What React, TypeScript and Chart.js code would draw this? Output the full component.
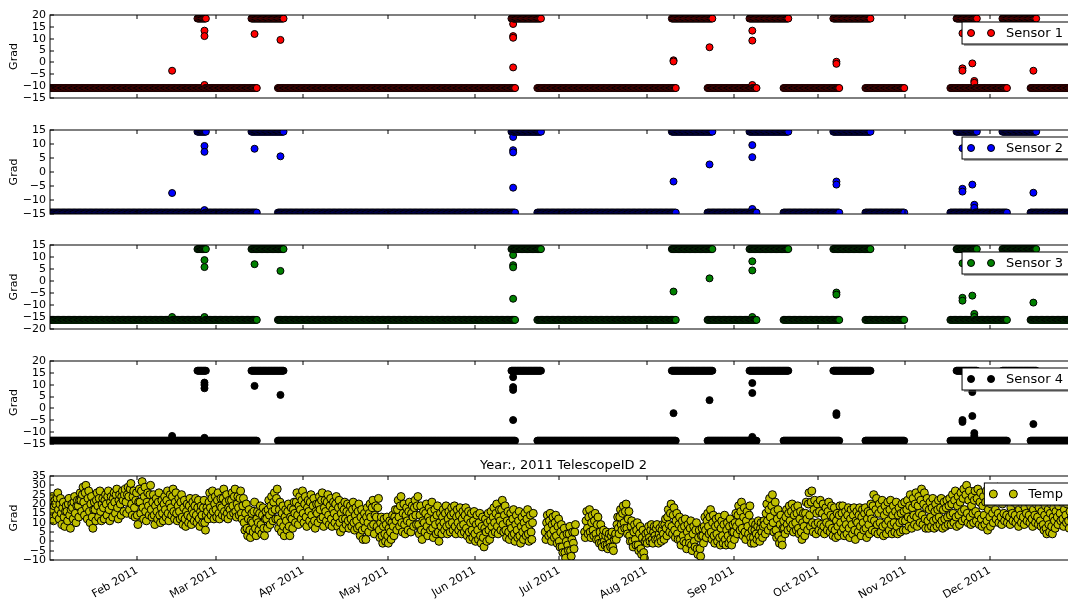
import React, { useEffect, useRef } from 'react';
import { Chart, registerables } from 'chart.js';

Chart.register(...registerables);

const FONT = "'DejaVu Sans', 'Liberation Sans', sans-serif";
Chart.defaults.font.family = FONT;
Chart.defaults.color = '#000';

// ---------- x axis (days since 1 Jan 2011) ----------
const X_MIN = 0;
const X_MAX = 365;
const MONTH_TICK_DAYS = [31, 59, 90, 120, 151, 181, 212, 243, 273, 304, 334];
const MONTH_TICK_LABELS = ['Feb 2011', 'Mar 2011', 'Apr 2011', 'May 2011', 'Jun 2011', 'Jul 2011', 'Aug 2011', 'Sep 2011', 'Oct 2011', 'Nov 2011', 'Dec 2011'];

// ---------- y ticks ----------
const Y_TICKS_S1 = [-15, -10, -5, 0, 5, 10, 15, 20];
const Y_TICKS_S2 = [-15, -10, -5, 0, 5, 10, 15];
const Y_TICKS_S3 = [-20, -15, -10, -5, 0, 5, 10, 15];
const Y_TICKS_S4 = [-15, -10, -5, 0, 5, 10, 15, 20];
const Y_TICKS_TEMP = [-10, -5, 0, 5, 10, 15, 20, 25, 30, 35];

// ---------- sensor readings: runs (day from, day to) at the resting level / the raised level ----------
const LOW_RUNS = [[0, 73.5], [81, 165.3], [173.2, 222.5], [233.7, 251.3], [260.7, 280.5], [289.8, 303.7], [320, 340.3], [348.5, 365]];
const HIGH_RUNS = [[52.4, 55.6], [71.6, 83], [164, 174.7], [221, 235.4], [248.6, 262.4], [278.4, 291.6], [322.2, 329.6], [338.5, 350.6]];
const READING_STEP_DAYS = 0.3;

const S1_LEVELS = [-10.8, 18.5];
const S2_LEVELS = [-14.5, 14.4];
const S3_LEVELS = [-16.2, 13.3];
const S4_LEVELS = [-13.6, 15.9];

// [day, value]
const S1_OUTLIERS = [[43.4, -3.5], [54.9, 13.4], [54.9, 11.1], [54.9, -9.5], [72.7, 12], [81.9, 9.5], [164.6, 16.2], [164.6, 11.1], [164.6, 10.4], [164.6, -2.1], [221.6, 0.9], [221.6, 0.4], [234.4, 6.4], [249.6, 13.4], [249.6, 9.2], [249.6, -9.5], [279.5, 0.3], [279.5, -0.6], [324.3, 12.3], [324.3, -2.5], [324.3, -3.5], [327.8, -0.4], [328.5, -7.8], [328.5, -8.6], [349.5, -3.5]];
const S2_OUTLIERS = [[43.4, -7.5], [54.9, 9.3], [54.9, 7.2], [54.9, -13.6], [72.7, 8.3], [81.9, 5.6], [164.6, 12.5], [164.6, 7.8], [164.6, 7], [164.6, -5.6], [221.6, -3.4], [234.4, 2.7], [249.6, 9.6], [249.6, 5.3], [249.6, -13.2], [279.5, -3.4], [279.5, -4.5], [324.3, 8.5], [324.3, -6], [324.3, -7], [327.8, -4.5], [328.5, -11.7], [328.5, -12.8], [349.5, -7.4]];
const S3_OUTLIERS = [[43.4, -15], [54.9, 8.7], [54.9, 5.8], [54.9, -15], [72.7, 7], [81.9, 4.2], [164.6, 10.8], [164.6, 6.6], [164.6, 5.7], [164.6, -7.4], [221.6, -4.4], [234.4, 1.1], [249.6, 8.2], [249.6, 4.4], [249.6, -15], [279.5, -4.8], [279.5, -5.7], [324.3, 7.4], [324.3, -7], [324.3, -8.2], [327.8, -6.1], [328.5, -13.7], [328.5, -15], [349.5, -9]];
const S4_OUTLIERS = [[43.4, -11.6], [54.9, 10.9], [54.9, 9.9], [54.9, 8.5], [54.9, -12.4], [72.7, 9.5], [81.9, 5.7], [164.6, 15.4], [164.6, 13.2], [164.6, 9], [164.6, 7.8], [164.6, -4.9], [221.6, -2], [234.4, 3.5], [249.6, 10.7], [249.6, 6.5], [249.6, -12], [279.5, -2], [279.5, -2.8], [324.3, -4.9], [324.3, -5.7], [327.8, 6.9], [327.8, -3.2], [328.5, -10.4], [328.5, -11.6], [349.5, -6.6]];

// ---------- temperature: four readings per day (00h, 06h, 12h, 18h); null = no data ----------
const TEMP_READS_PER_DAY = 4;
const TEMP_JAN_START = 0;
const TEMP_JAN = [18, 13, 21, 24, 16, 11, 19, 22, 20, 14, 23, 26, 17, 12, 20, 23, 15, 9, 18, 21, 13, 8, 16, 19, 16, 11, 20, 23, 14, 7, 17, 20,
  18, 12, 21, 24, 15, 10, 19, 22, 19, 13, 22, 26, 22, 16, 25, 29, 21, 14, 26, 30, 18, 12, 23, 27, 16, 10, 20, 24, 13, 7, 17, 21,
  17, 11, 22, 26, 19, 13, 23, 27, 16, 11, 20, 23, 18, 12, 22, 25, 20, 14, 24, 27, 17, 11, 21, 24, 19, 13, 23, 26, 21, 15, 25, 28,
  18, 12, 22, 25, 20, 14, 24, 27, 22, 16, 25, 28, 21, 15, 25, 29, 24, 17, 28, 31, 20, 14, 24, 27, 18, 13, 22, 26];
const TEMP_FEB_START = 31;
const TEMP_FEB = [14, 9, 21, 28, 21, 15, 27, 32, 18, 12, 24, 29, 16, 11, 21, 26, 19, 14, 25, 30, 17, 13, 21, 25, 14, 9, 19, 23,
  16, 12, 21, 26, 14, 10, 18, 22, 15, 11, 20, 24, 17, 13, 22, 27, 15, 11, 20, 25, 18, 14, 24, 28, 16, 12, 21, 26,
  15, 11, 19, 23, 16, 12, 21, 25, 13, 9, 18, 22, 12, 8, 16, 20, 14, 10, 19, 23, 13, 9, 17, 21, 15, 11, 19, 23,
  14, 10, 18, 22, 12, 8, 16, 19, 14, 10, 18, 22, 10, 6, 14, 18, 16, 12, 21, 26, 18, 14, 23, 27, 16, 12, 20, 24];
const TEMP_MAR_START = 59;
const TEMP_MAR = [17, 13, 22, 26, 15, 12, 19, 23, 18, 14, 23, 28, 16, 13, 21, 25, 15, 12, 18, 22, 17, 14, 22, 26, 19, 15, 24, 28,
  16, 13, 20, 24, 18, 14, 23, 27, 15, 12, 19, 23, 10, 6, 15, 20, 7, 3, 12, 17, 6, 2, 11, 15, 10, 5, 16, 21,
  7, 3, 12, 16, 10, 6, 15, 19, 9, 4, 14, 18, 7, 3, 12, 16, 12, 7, 17, 22, 14, 9, 19, 24, 16, 11, 21, 26,
  17, 12, 23, 28, 12, 7, 17, 21, 10, 5, 15, 19, 8, 3, 13, 17, 11, 6, 16, 20, 8, 3, 13, 18, 12, 7, 17, 21,
  15, 10, 21, 26, 14, 9, 19, 24, 17, 12, 22, 27];
const TEMP_APR_START = 90;
const TEMP_APR = [15, 10, 20, 24, 13, 8, 18, 22, 16, 11, 21, 25, 14, 9, 19, 23, 11, 7, 16, 20, 15, 10, 20, 24, 17, 12, 22, 26,
  13, 8, 18, 22, 16, 11, 21, 25, 14, 9, 19, 23, 12, 8, 17, 21, 15, 10, 20, 24, 13, 8, 18, 22, 10, 5, 15, 19,
  12, 7, 17, 21, 12, 9, 16, 20, 11, 7, 15, 19, 12, 8, 17, 21, 10, 6, 14, 18, 11, 7, 16, 20, 8, 3, 13, 17,
  6, 1, 11, 15, 7, 1, 13, 18, 10, 5, 15, 20, 13, 8, 18, 22, 9, 4, 14, 19, 13, 8, 18, 23, 6, 2, 10, 13,
  3, -1, 8, 12, 4, 0, 9, 13];
const TEMP_MAY_START = 120;
const TEMP_MAY = [3, -1, 7, 11, 5, 1, 10, 14, 8, 3, 13, 17, 11, 6, 17, 22, 13, 8, 19, 24, 10, 5, 15, 20, 9, 4, 14, 18,
  11, 6, 16, 21, 10, 5, 15, 19, 13, 8, 18, 22, 14, 9, 19, 24, 9, 4, 14, 19, 6, 1, 11, 16, 10, 5, 15, 20,
  8, 3, 13, 18, 11, 6, 16, 21, 7, 2, 12, 17, 9, 4, 14, 19, 5, 0, 10, 15, 8, 4, 13, 17, 10, 6, 15, 19,
  8, 4, 12, 16, 9, 5, 14, 18, 10, 6, 15, 19, 8, 4, 13, 17, 10, 6, 14, 18, 8, 4, 12, 16, 9, 5, 14, 18,
  7, 3, 12, 16, 5, 1, 10, 15, 6, 2, 11, 16];
const TEMP_JUN_START = 151;
const TEMP_JUN = [4, 0, 9, 14, 6, 1, 10, 15, 3, -1, 8, 13, 2, -3, 7, 12, 5, 0, 10, 15, 6, 1, 11, 16, 8, 4, 13, 18,
  10, 5, 15, 20, 8, 4, 13, 17, 11, 6, 17, 22, 9, 5, 14, 19, 6, 2, 11, 16, 5, 1, 10, 15, 7, 3, 12, 17,
  4, 0, 9, 14, 6, 2, 11, 16, 3, -1, 8, 13, 5, 1, 10, 15, 7, 3, 12, 17, 4, 0, 9, 14, 5, 1, 10, 15,
  null, null, null, null, null, null, null, null, null, null, null, null, null, null, null, null,
  5, 1, 10, 14, 7, 3, 11, 15, 4, 0, 9, 13, 6, 2, 10, 14, 3, -1, 8, 12];
const TEMP_JUL_START = 181;
const TEMP_JUL = [0, -3, 5, 9, -3, -6, 3, 7, -6, -9, 0, 4, -2, -5, 4, 8, -5, -8, 1, 5, -1, -4, 5, 9,
  null, null, null, null, null, null, null, null, null, null, null, null,
  5, 2, 11, 16, 7, 4, 13, 17, 5, 2, 10, 14, 6, 3, 11, 15, 4, 1, 9, 13, 1, -1, 5, 9, -1, -3, 3, 6,
  0, -2, 3, 5, -2, -4, 2, 4, -1, -3, 3, 5, -3, -5, 1, 3, 4, 1, 9, 13, 7, 4, 13, 17, 9, 6, 15, 19,
  10, 7, 16, 20, 7, 4, 12, 16, 3, 0, 8, 11, 0, -3, 5, 9, 1, -2, 6, 10, -2, -5, 4, 8, -4, -7, 2, 6,
  -6, -9, 0, 4];
const TEMP_AUG_START = 212;
const TEMP_AUG = [1, -1, 5, 8, 2, 0, 6, 9, 1, -1, 5, 8, 3, 1, 7, 9, 1, -1, 4, 7, 2, 0, 6, 9, 4, 1, 9, 12,
  7, 3, 13, 17, 9, 5, 15, 20, 8, 4, 14, 18, 6, 2, 11, 15, 4, 1, 9, 13, 1, -2, 7, 11, 3, 0, 8, 12,
  -1, -4, 5, 9, 2, -1, 7, 11, -2, -5, 4, 8, 0, -3, 6, 10, -4, -7, 2, 6, -4, -8, 3, 7, 3, -1, 8, 13,
  6, 2, 11, 15, 8, 4, 13, 17, 5, 1, 10, 14, 3, -1, 8, 12, 4, 0, 9, 13, 2, -2, 7, 11, 3, -1, 9, 14,
  1, -2, 6, 10, 3, -1, 8, 12, 1, -2, 5, 9];
const TEMP_SEP_START = 243;
const TEMP_SEP = [5, 1, 10, 15, 8, 4, 14, 19, 10, 6, 16, 21, 7, 3, 13, 18, 5, 1, 11, 16, 8, 4, 14, 19, 2, -1, 6, 10,
  2, -1, 6, 9, 4, 1, 8, 11, 3, 0, 7, 10, 5, 2, 8, 11, 9, 4, 15, 20, 11, 6, 17, 23, 13, 8, 19, 25,
  10, 5, 16, 21, 6, 2, 12, 17, 3, -1, 9, 14, 1, -2, 7, 11, 7, 4, 13, 17, 9, 6, 15, 19, 11, 7, 16, 20,
  9, 5, 14, 18, 10, 6, 15, 19, 7, 4, 12, 16, 5, 1, 10, 15, 8, 3, 15, 21, 12, 6, 20, 26, 14, 8, 21, 27,
  10, 5, 17, 22, 9, 4, 15, 20];
const TEMP_OCT_START = 273;
const TEMP_OCT = [10, 6, 16, 22, 9, 5, 15, 20, 8, 4, 13, 18, 10, 6, 16, 21, 9, 5, 14, 19, 7, 3, 13, 18, 6, 2, 11, 15,
  8, 3, 14, 19, 10, 5, 15, 19, 7, 3, 12, 16, 9, 4, 14, 18, 7, 2, 12, 17, 9, 4, 14, 18, 6, 1, 11, 16,
  10, 5, 14, 18, 8, 3, 13, 17, 10, 6, 15, 18, 7, 2, 12, 16, 9, 4, 15, 20, 12, 6, 19, 25, 11, 5, 17, 23,
  9, 4, 15, 20, 10, 5, 17, 22, 8, 3, 14, 19, 9, 4, 16, 21, 11, 6, 17, 22, 9, 4, 14, 19, 10, 5, 16, 21,
  8, 4, 14, 18, 10, 5, 15, 20, 11, 6, 16, 21];
const TEMP_NOV_START = 304;
const TEMP_NOV = [11, 6, 17, 22, 13, 8, 19, 25, 12, 7, 18, 23, 14, 9, 20, 26, 13, 8, 19, 24, 15, 10, 22, 28, 14, 9, 20, 26,
  12, 7, 18, 23, 11, 7, 17, 21, 13, 8, 18, 23, 11, 7, 16, 20, 12, 8, 17, 22, 13, 9, 18, 23, 11, 7, 17, 21,
  12, 8, 18, 22, 13, 9, 19, 23, 14, 9, 20, 25, 15, 10, 22, 27, 13, 8, 19, 24, 14, 9, 21, 26, 16, 11, 23, 28,
  17, 12, 25, 30, 15, 10, 22, 27, 13, 9, 19, 24, 15, 10, 22, 27, 16, 11, 23, 28, 14, 9, 21, 26, 12, 8, 19, 24,
  14, 9, 21, 27, 11, 6, 17, 23];
const TEMP_DEC_START = 334;
const TEMP_DEC = [13, 8, 20, 26, 15, 10, 22, 28, 17, 12, 24, 29, 15, 10, 22, 27, 13, 9, 20, 25, 15, 11, 22, 27, 14, 10, 21, 26,
  13, 9, 18, 23, 15, 11, 21, 25, 14, 10, 20, 24, 12, 8, 17, 22, 14, 10, 20, 24, 13, 9, 18, 23, 15, 11, 21, 25,
  14, 10, 19, 23, 12, 8, 17, 22, 14, 10, 20, 24, 13, 9, 18, 22, 11, 8, 16, 21, 9, 6, 14, 19, 7, 4, 12, 17,
  9, 5, 15, 20, 8, 4, 13, 18, 11, 7, 16, 21, 13, 9, 19, 23, 15, 11, 21, 25, 12, 8, 17, 22, 14, 10, 20, 24,
  11, 7, 16, 21, 13, 9, 19, 23, 15, 11, 20, 24];

const TEMP_MONTHS: [number, (number | null)[]][] = [
  [TEMP_JAN_START, TEMP_JAN], [TEMP_FEB_START, TEMP_FEB], [TEMP_MAR_START, TEMP_MAR], [TEMP_APR_START, TEMP_APR],
  [TEMP_MAY_START, TEMP_MAY], [TEMP_JUN_START, TEMP_JUN], [TEMP_JUL_START, TEMP_JUL], [TEMP_AUG_START, TEMP_AUG],
  [TEMP_SEP_START, TEMP_SEP], [TEMP_OCT_START, TEMP_OCT], [TEMP_NOV_START, TEMP_NOV], [TEMP_DEC_START, TEMP_DEC],
];

type Pt = { x: number; y: number };

function sensorPoints(levels: number[], outliers: number[][]): Pt[] {
  const pts: Pt[] = [];
  const addRuns = (runs: number[][], level: number) => {
    runs.forEach(([a, b]) => {
      for (let d = a; d <= b + 1e-9; d += READING_STEP_DAYS) pts.push({ x: d, y: level });
    });
  };
  addRuns(LOW_RUNS, levels[0]);
  addRuns(HIGH_RUNS, levels[1]);
  outliers.forEach(([d, v]) => pts.push({ x: d, y: v }));
  pts.sort((p, q) => p.x - q.x);
  return pts;
}

function tempPoints(): Pt[] {
  const pts: Pt[] = [];
  TEMP_MONTHS.forEach(([start, vals]) => {
    vals.forEach((v, i) => {
      if (v !== null) pts.push({ x: start + i / TEMP_READS_PER_DAY, y: v });
    });
  });
  return pts;
}

// ---------- layout ----------
const CANVAS_W = 1100;
const PAD_RIGHT = 23;
const AXIS_W = 50;

type PanelSpec = {
  label: string;
  color: string;
  points: Pt[];
  radius: number;
  yMin: number;
  yMax: number;
  yTicks: number[];
  top: number;
  bottom: number;
  last: boolean;
  title?: string;
};

const fmt = (v: number) => (v < 0 ? '\u2212' + Math.abs(v) : String(v));

function decorPlugin(spec: PanelSpec) {
  return {
    id: 'mplDecor',
    afterDraw(chart: any) {
      const { ctx, chartArea: a, scales } = chart;
      const xs = scales.x;
      const ys = scales.y;
      ctx.save();
      ctx.strokeStyle = '#000';
      ctx.lineWidth = 1;
      ctx.beginPath();
      MONTH_TICK_DAYS.forEach((d) => {
        const px = Math.round(xs.getPixelForValue(d));
        ctx.moveTo(px, a.top);
        ctx.lineTo(px, a.top + 4);
        ctx.moveTo(px, a.bottom);
        ctx.lineTo(px, a.bottom - 4);
      });
      spec.yTicks.forEach((t) => {
        const py = Math.round(ys.getPixelForValue(t));
        ctx.moveTo(a.left, py);
        ctx.lineTo(a.left + 4, py);
        ctx.moveTo(a.right, py);
        ctx.lineTo(a.right - 4, py);
      });
      ctx.stroke();
      ctx.strokeRect(a.left, a.top, a.right - a.left, a.bottom - a.top);

      // legend (upper right, with shadow)
      ctx.font = `13px ${FONT}`;
      const tw = ctx.measureText(spec.label).width;
      const boxR = a.right - 7;
      const boxT = a.top + 7;
      const boxH = 22;
      const boxL = boxR - (44 + tw + 7);
      const boxW = boxR - boxL;
      ctx.fillStyle = 'rgba(77,77,77,0.5)';
      ctx.fillRect(boxL + 2, boxT + 2, boxW, boxH);
      ctx.fillStyle = '#fff';
      ctx.fillRect(boxL, boxT, boxW, boxH);
      ctx.strokeStyle = '#000';
      ctx.strokeRect(boxL, boxT, boxW, boxH);
      const cy = boxT + boxH / 2;
      [9, 29].forEach((dx) => {
        ctx.beginPath();
        ctx.arc(boxL + dx, cy, spec.radius, 0, Math.PI * 2);
        ctx.fillStyle = spec.color;
        ctx.fill();
        ctx.strokeStyle = '#000';
        ctx.stroke();
      });
      ctx.fillStyle = '#000';
      ctx.textAlign = 'left';
      ctx.textBaseline = 'middle';
      ctx.fillText(spec.label, boxL + 44, cy + 0.5);

      if (spec.title) {
        ctx.textAlign = 'center';
        ctx.textBaseline = 'middle';
        ctx.fillText(spec.title, (a.left + a.right) / 2, a.top - 10);
      }
      ctx.restore();
    },
  };
}

function Panel({ spec }: { spec: PanelSpec }) {
  const ref = useRef<HTMLCanvasElement>(null);
  const padTop = spec.last ? 28 : 12;
  const canvasTop = spec.top - padTop;
  const canvasH = spec.last ? 601 - canvasTop : spec.bottom - spec.top + 24;
  const xAxisH = 601 - spec.bottom;

  useEffect(() => {
    const chart = new Chart(ref.current as HTMLCanvasElement, {
      type: 'scatter',
      data: {
        datasets: [
          {
            label: spec.label,
            data: spec.points,
            pointBackgroundColor: spec.color,
            backgroundColor: spec.color,
            pointBorderColor: '#000',
            borderColor: '#000',
            pointBorderWidth: 1,
            pointRadius: spec.radius,
            pointHoverRadius: spec.radius,
          },
        ],
      },
      options: {
        responsive: false,
        animation: false,
        devicePixelRatio: 1,
        events: [],
        layout: { padding: { top: padTop, bottom: spec.last ? 0 : 12, left: 0, right: PAD_RIGHT } },
        plugins: { legend: { display: false }, tooltip: { enabled: false }, title: { display: false } },
        scales: {
          x: {
            type: 'linear',
            min: X_MIN,
            max: X_MAX,
            display: spec.last,
            afterBuildTicks: (s: any) => {
              s.ticks = MONTH_TICK_DAYS.map((v) => ({ value: v }));
            },
            afterFit: (s: any) => {
              if (spec.last) s.height = xAxisH;
            },
            grid: { display: false, drawTicks: false },
            border: { display: false },
            ticks: {
              autoSkip: false,
              minRotation: 30,
              maxRotation: 30,
              padding: 4,
              color: '#000',
              font: { family: FONT, size: 11 },
              callback: (_v: any, i: number) => MONTH_TICK_LABELS[i],
            },
          },
          y: {
            type: 'linear',
            min: spec.yMin,
            max: spec.yMax,
            afterBuildTicks: (s: any) => {
              s.ticks = spec.yTicks.map((v) => ({ value: v }));
            },
            afterFit: (s: any) => {
              s.width = AXIS_W;
            },
            grid: { display: false, drawTicks: false },
            border: { display: false },
            ticks: {
              autoSkip: false,
              padding: 4,
              color: '#000',
              font: { family: FONT, size: 11 },
              callback: (v: any) => fmt(Number(v)),
            },
            title: {
              display: true,
              text: 'Grad',
              color: '#000',
              font: { family: FONT, size: 11 },
              padding: { top: 8, bottom: 0 },
            },
          },
        },
      } as any,
      plugins: [decorPlugin(spec)],
    });
    return () => chart.destroy();
  }, [spec]);

  return (
    <canvas
      ref={ref}
      width={CANVAS_W}
      height={canvasH}
      style={{ position: 'absolute', left: 0, top: canvasTop, display: 'block' }}
    />
  );
}

const SPECS: PanelSpec[] = [
  { label: 'Sensor 1', color: '#ff0000', points: sensorPoints(S1_LEVELS, S1_OUTLIERS), radius: 3.5, yMin: -15, yMax: 20, yTicks: Y_TICKS_S1, top: 15, bottom: 98, last: false },
  { label: 'Sensor 2', color: '#0000ff', points: sensorPoints(S2_LEVELS, S2_OUTLIERS), radius: 3.5, yMin: -15, yMax: 15, yTicks: Y_TICKS_S2, top: 130, bottom: 214, last: false },
  { label: 'Sensor 3', color: '#008000', points: sensorPoints(S3_LEVELS, S3_OUTLIERS), radius: 3.5, yMin: -20, yMax: 15, yTicks: Y_TICKS_S3, top: 245, bottom: 329, last: false },
  { label: 'Sensor 4', color: '#000000', points: sensorPoints(S4_LEVELS, S4_OUTLIERS), radius: 3.5, yMin: -15, yMax: 20, yTicks: Y_TICKS_S4, top: 361, bottom: 444, last: false },
  { label: 'Temp', color: '#bfbf00', points: tempPoints(), radius: 4, yMin: -10, yMax: 35, yTicks: Y_TICKS_TEMP, top: 476, bottom: 560, last: true, title: 'Year:, 2011 TelescopeID 2' },
];

export default function App() {
  return (
    <div style={{ position: 'fixed', left: 0, top: 0, width: 1068, height: 601, overflow: 'hidden', background: '#fff' }}>
      {SPECS.map((s) => (
        <Panel key={s.label} spec={s} />
      ))}
    </div>
  );
}
